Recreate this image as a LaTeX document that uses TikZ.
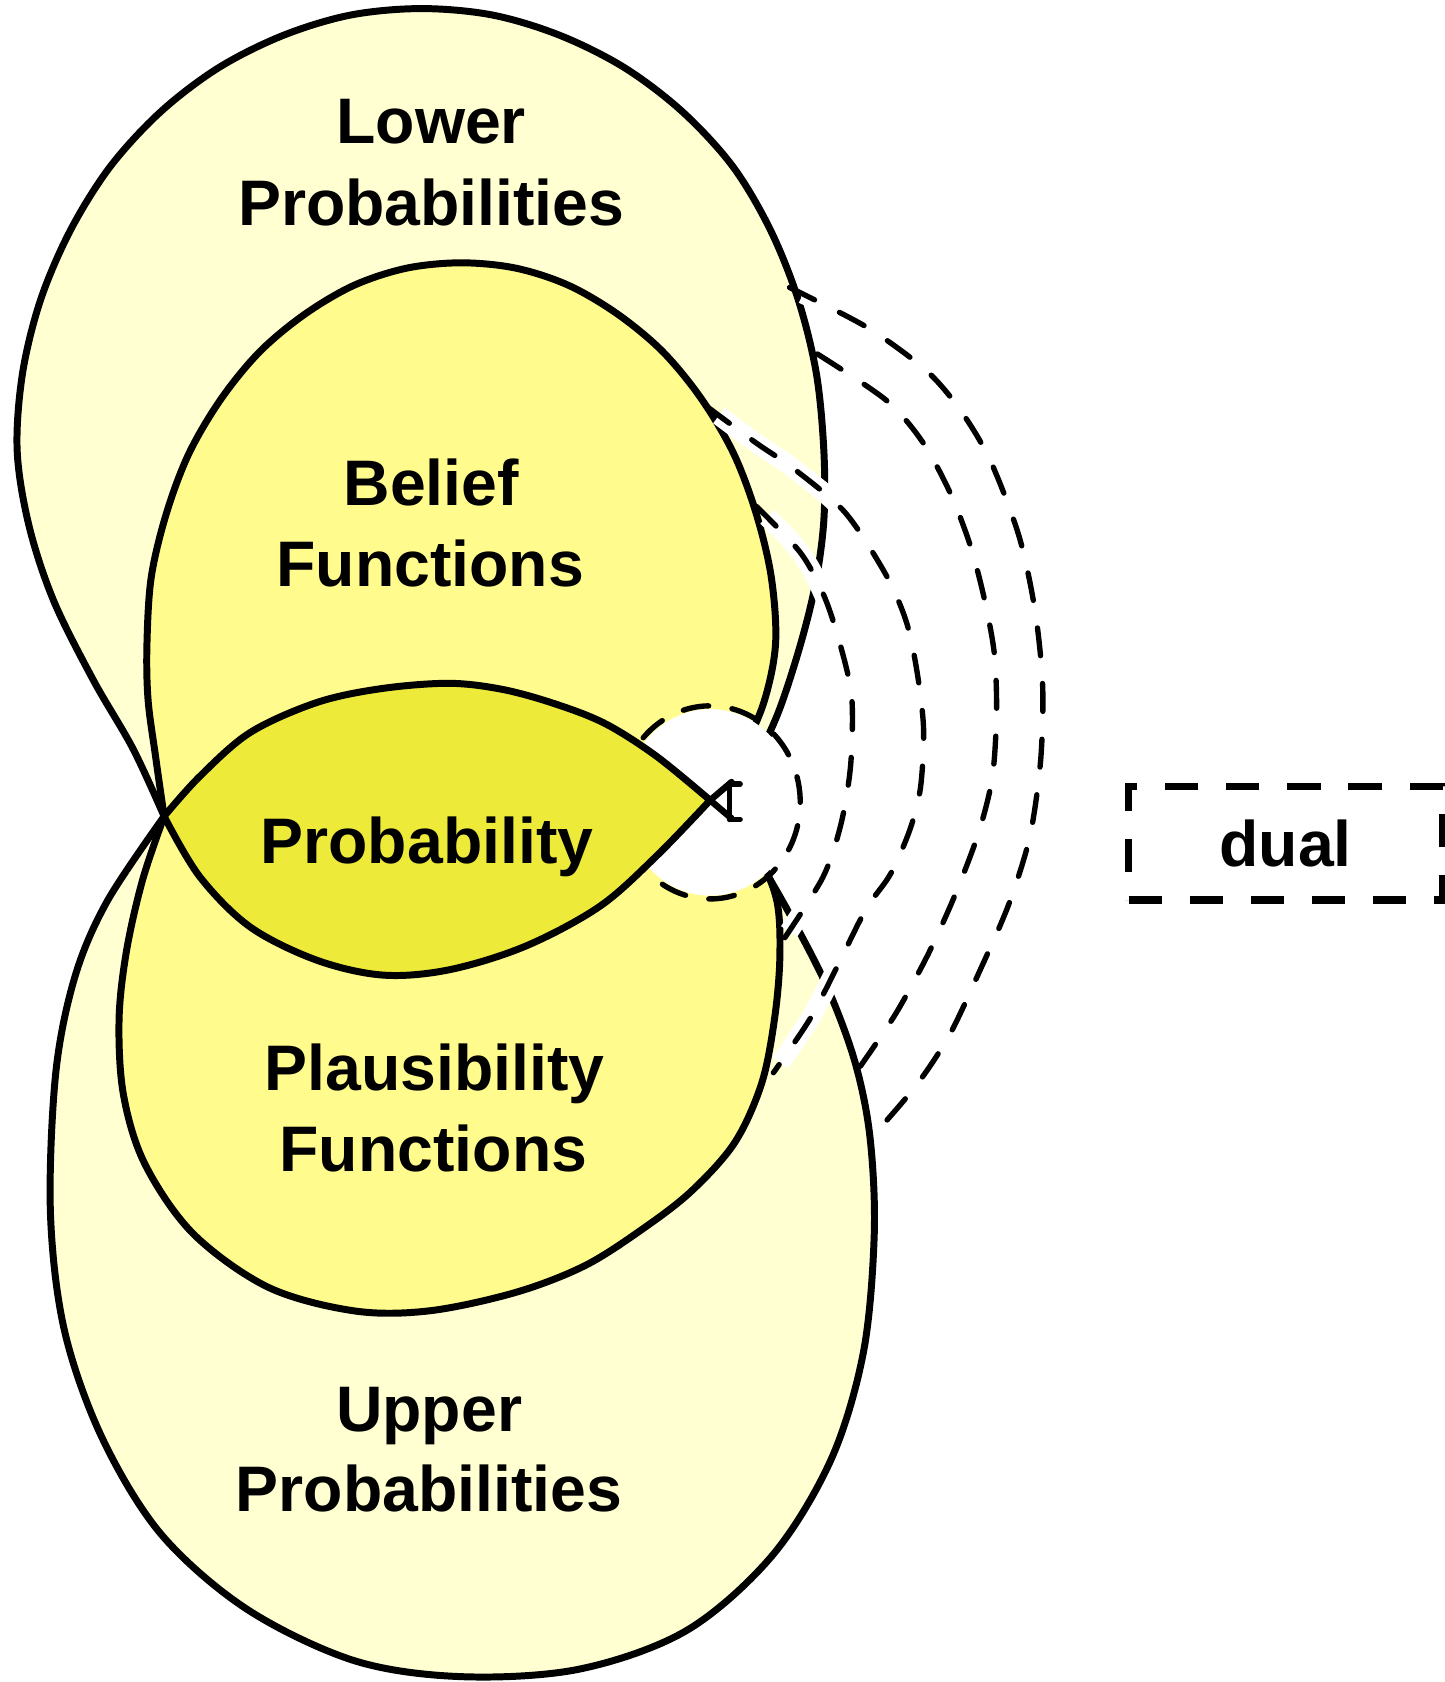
\documentclass[tikz,border=0pt]{standalone}
\usepackage{fontspec}
\setmainfont{Liberation Sans}
\definecolor{outerY}{RGB}{255,255,210}
\definecolor{midY}{RGB}{255,251,140}
\definecolor{probY}{RGB}{237,234,58}
\begin{document}
\begin{tikzpicture}[x=1pt,y=-1pt,
  outline/.style={draw=black, line width=6.5pt, line join=round},
  dualarc/.style={draw=black, line width=5pt, dash pattern=on 26pt off 26pt, line cap=round,
     preaction={draw=white, solid, line width=18pt, line cap=butt, shorten <=14pt, shorten >=14pt}},
  innerarc/.style={draw=black, line width=5pt, dash pattern=on 24pt off 22pt, line cap=round},
  lbl/.style={font=\bfseries\fontsize{60}{72}\selectfont, anchor=base, inner sep=0pt},
  dualbox/.style={draw=black, line width=7pt, dash pattern=on 31pt off 26pt, minimum width=293pt, minimum height=106pt, inner sep=0pt, font=\bfseries\fontsize{60}{72}\selectfont}]
\useasboundingbox (0,0) rectangle (1347,1568);

\coordinate (L) at (153,761);
\coordinate (Ro) at (672,746);
\coordinate (Rm) at (668,746);
\coordinate (Rp) at (662,746);

% outer region (lower / upper probabilities)
\path[outline, fill=outerY] (L) -- plot[smooth, tension=0.55] coordinates {(L) (124,698) (87,634) (50,560) (27,490) (16,420) (21,348) (38,279) (66,214) (103,155) (150,104) (204,63) (264,33) (327,14) (393,8) (459,14) (522,33) (582,63) (636,104) (683,155) (718,214) (744,279) (761,348) (768,420) (768,485) (760,545) (745,605) (724,668) (700,715) (Ro)}
  -- plot[smooth, tension=0.55] coordinates {(Ro) (700,790) (735,850) (771,920) (797,990) (811,1060) (815,1150) (805,1260) (775,1360) (720,1450) (640,1520) (540,1556) (430,1563) (330,1548) (230,1500) (150,1430) (95,1340) (60,1240) (47,1130) (52,1000) (70,910) (100,840) (L)} -- cycle;

% belief / plausibility region
\path[outline, fill=midY] (L) -- plot[smooth, tension=0.55] coordinates {(L) (145,705) (138,652) (137,600) (141,538) (155,479) (176,423) (206,372) (242,328) (284,293) (330,266) (379,250) (430,245) (481,250) (530,266) (576,293) (618,328) (654,372) (684,423) (705,479) (719,538) (723,600) (712,655) (690,705) (Rm)}
  -- plot[smooth, tension=0.55] coordinates {(Rm) (705,795) (724,839) (727,892) (722,950) (710,1010) (685,1065) (645,1110) (600,1145) (545,1180) (480,1205) (400,1222) (330,1222) (250,1200) (180,1150) (135,1085) (115,1020) (111,950) (118,886) (133,820) (L)} -- cycle;

% endpoints of the dual connectors
\coordinate (a4s) at (736,268);
\coordinate (a4e) at (812,1061);
\coordinate (a3s) at (762,330);
\coordinate (a3e) at (802,994);
\coordinate (a2s) at (659,379);
\coordinate (a2e) at (721,1000);
\coordinate (a1s) at (705,472);
\coordinate (a1e) at (729,878);

\draw[dualarc] plot[smooth] coordinates {(a4s) (808,305) (863,345) (895,382) (923,429) (950,500) (965,570) (972,640) (970,710) (960,780) (940,844) (912,908) (885,965) (854,1012) (a4e)};
\draw[dualarc] plot[smooth] coordinates {(a3s) (826,373) (860,412) (886,460) (905,510) (918,560) (927,610) (929,665) (925,725) (912,777) (890,835) (865,890) (835,945) (a3e)};
\draw[dualarc] plot[smooth] coordinates {(a2s) (705,413) (740,437) (788,478) (826,536) (845,580) (855,627) (861,680) (858,735) (848,774) (830,815) (807,848) (780,902) (755,950) (a2e)};
\draw[dualarc] plot[smooth] coordinates {(a1s) (746,515) (768,555) (783,600) (794,650) (793,713) (784,768) (767,818) (a1e)};

% white blob around the probability tip
\coordinate (blobc) at (662,748);
\fill[white] (blobc) ellipse (80 and 87);

% probability region
\path[outline, fill=probY] (L) -- plot[smooth, tension=0.55] coordinates {(L) (186,724) (233,683) (295,655) (355,642) (419,637) (470,643) (520,657) (565,675) (612,705) (Rp)}
  -- plot[smooth, tension=0.55] coordinates {(Rp) (612,798) (559,845) (490,882) (419,904) (357,909) (295,895) (233,864) (186,817) (L)} -- cycle;
\draw[line width=6pt, line cap=round] (Rp) -- ++(20,17) (Rp) -- ++(20,-17);
\draw[line width=5pt, line cap=round] (680,731) -- (680,764) (680,731) -- (690,731) (680,764) -- (690,764);

% self-dual arc of probability
\draw[innerarc] plot[domain=-138:130, samples=80, smooth] ({662+84*cos(\x)}, {748+90*sin(\x)});

% labels
\node[lbl] (lower1) at (402,134) {Lower};
\node[lbl] (lower2) at (402,210) {Probabilities};
\node[lbl] (bel1) at (402,471) {Belief};
\node[lbl] (bel2) at (401,547) {Functions};
\node[lbl] (prob) at (398,805) {Probability};
\node[lbl] (pl1) at (405,1017) {Plausibility};
\node[lbl] (pl2) at (404,1092) {Functions};
\node[lbl] (up1) at (400,1334) {Upper};
\node[lbl] (up2) at (400,1409) {Probabilities};

\node[dualbox] (dual) at (1198.5,786) {dual};
\end{tikzpicture}
\end{document}
